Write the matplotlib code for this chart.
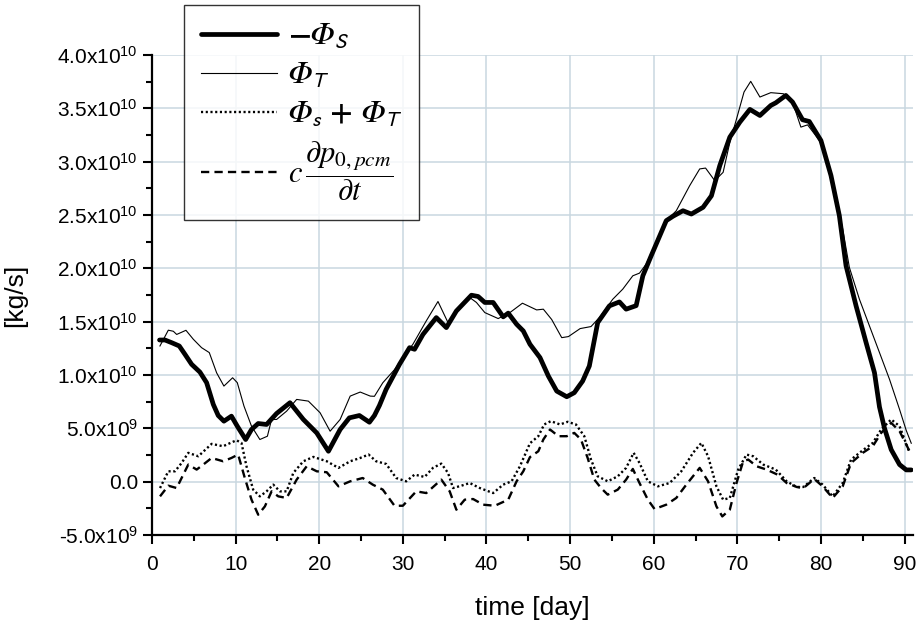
import matplotlib
matplotlib.use("Agg")
from matplotlib import pyplot as plt
from matplotlib.ticker import MultipleLocator, FuncFormatter

plt.rcParams["font.family"] = ["Liberation Sans", "DejaVu Sans"]
plt.rcParams["mathtext.fontset"] = "custom"
plt.rcParams["mathtext.rm"] = "Liberation Sans"
plt.rcParams["mathtext.it"] = "Liberation Sans:italic"
plt.rcParams["mathtext.sf"] = "Liberation Sans"

scale = 1e10  # values below are in units of 1e10 kg/s

# -Phi_S (thick line)
day_s = [0.9, 1.55, 2.35, 3.26, 3.94, 4.74, 5.73, 6.53, 7.33, 7.92, 8.6, 9.5,
         10.2, 11.2, 11.9, 12.7, 13.7, 14.9, 16.5, 18.1, 19.7, 21.1, 22.5, 23.6,
         24.8, 26.0, 26.6, 27.2, 28.0, 29.6, 30.8, 31.4, 32.4, 34.0, 35.2, 36.4,
         38.2, 39.0, 39.8, 40.8, 42.0, 42.6, 43.6, 44.4, 45.2, 46.4, 47.4, 48.4,
         49.6, 50.5, 51.5, 52.3, 53.3, 54.7, 55.9, 56.7, 57.9, 58.7, 59.7, 61.5,
         62.3, 63.5, 64.5, 65.9, 66.9, 67.9, 69.1, 70.3, 71.5, 72.7, 74.0, 74.6,
         75.8, 76.6, 77.8, 78.6, 80.0, 81.2, 82.2, 83.0, 84.2, 85.4, 86.4, 87.0,
         87.6, 88.4, 89.4, 90.2, 90.8]
phi_s = [1.328, 1.328, 1.303, 1.272, 1.194, 1.10, 1.027, 0.928, 0.724, 0.62,
         0.567, 0.614, 0.52, 0.395, 0.489, 0.545, 0.536, 0.639, 0.74, 0.583,
         0.457, 0.285, 0.489, 0.598, 0.62, 0.557, 0.62, 0.714, 0.865, 1.10,
         1.256, 1.241, 1.38, 1.538, 1.444, 1.60, 1.748, 1.736, 1.68, 1.68,
         1.545, 1.58, 1.476, 1.413, 1.288, 1.163, 0.99, 0.849, 0.796, 0.834,
         0.943, 1.084, 1.491, 1.648, 1.685, 1.617, 1.65, 1.93, 2.118, 2.447,
         2.488, 2.54, 2.509, 2.572, 2.68, 2.963, 3.23, 3.371, 3.49, 3.433,
         3.527, 3.552, 3.621, 3.559, 3.393, 3.377, 3.198, 2.87, 2.494, 2.024,
         1.648, 1.303, 1.022, 0.70, 0.50, 0.30, 0.16, 0.11, 0.11]

# Phi_T (thin line)
day_t = [0.95, 1.95, 2.55, 2.95, 4.06, 4.94, 5.93, 6.85, 7.73, 8.6, 9.64, 10.2,
         11.0, 11.9, 12.9, 13.8, 14.3, 14.9, 16.1, 17.3, 18.7, 20.1, 21.3, 22.5,
         23.7, 24.9, 26.1, 26.6, 27.6, 29.0, 30.0, 31.2, 32.8, 34.2, 35.4, 36.6,
         38.0, 38.8, 39.8, 41.4, 42.8, 44.3, 46.0, 46.8, 47.8, 49.0, 49.8, 51.2,
         52.5, 53.5, 55.1, 56.3, 57.5, 58.3, 59.1, 60.3, 61.7, 62.7, 64.3, 65.5,
         66.2, 67.3, 68.3, 69.1, 69.9, 70.8, 71.6, 72.7, 74.0, 75.5, 76.6, 77.6,
         78.4, 80.0, 81.4, 82.6, 83.4, 84.6, 85.8, 87.0, 88.2, 89.4, 90.2, 90.8]
phi_t = [1.272, 1.42, 1.41, 1.38, 1.419, 1.335, 1.256, 1.21, 1.02, 0.896,
         0.974, 0.928, 0.708, 0.52, 0.395, 0.426, 0.583, 0.583, 0.661, 0.771,
         0.755, 0.646, 0.473, 0.583, 0.802, 0.84, 0.802, 0.80, 0.927, 1.05,
         1.163, 1.288, 1.507, 1.689, 1.491, 1.617, 1.726, 1.68, 1.585, 1.529,
         1.585, 1.673, 1.61, 1.617, 1.52, 1.35, 1.36, 1.435, 1.454, 1.538,
         1.71, 1.805, 1.93, 1.955, 2.04, 2.243, 2.462, 2.54, 2.775, 2.932,
         2.94, 2.822, 2.90, 3.18, 3.40, 3.653, 3.753, 3.606, 3.647, 3.637,
         3.559, 3.324, 3.345, 3.18, 2.807, 2.368, 2.008, 1.71, 1.46, 1.21,
         0.959, 0.677, 0.48, 0.36]

# Phi_s + Phi_T (dotted)
day_sum = [0.96, 1.95, 2.75, 3.54, 4.34, 5.54, 7.13, 8.5, 10.1, 10.7, 11.3, 12.1,
           12.9, 13.7, 14.5, 15.3, 16.1, 16.9, 18.1, 19.3, 20.9, 22.3, 23.7, 24.9,
           25.9, 26.8, 28.0, 29.2, 30.4, 31.4, 32.6, 33.6, 34.6, 35.4, 36.0, 37.0,
           38.0, 39.2, 40.8, 42.0, 43.0, 44.0, 45.2, 46.2, 46.9, 47.7, 48.8, 49.7,
           50.7, 51.7, 52.5, 53.3, 54.5, 55.7, 56.7, 57.6, 58.3, 59.3, 60.5, 61.9,
           63.3, 64.7, 65.7, 66.5, 67.5, 68.3, 69.1, 70.1, 71.1, 71.9, 73.1, 74.6,
           75.9, 77.1, 77.9, 79.2, 80.2, 81.4, 82.6, 83.6, 85.0, 86.2, 87.2, 88.4,
           89.4, 90.6]
phi_sum = [-0.06, 0.097, 0.097, 0.175, 0.27, 0.238, 0.354, 0.332, 0.388, 0.363,
           0.144, -0.075, -0.138, -0.091, -0.028, -0.091, -0.091, 0.082, 0.191,
           0.232, 0.191, 0.129, 0.191, 0.222, 0.254, 0.191, 0.166, 0.034, 0.003,
           0.066, 0.044, 0.129, 0.169, 0.082, -0.06, -0.038, -0.013, -0.06,
           -0.107, -0.028, 0.003, 0.144, 0.36, 0.426, 0.536, 0.567, 0.536, 0.561,
           0.536, 0.426, 0.207, 0.05, 0.003, 0.05, 0.129, 0.27, 0.175, 0.003,
           -0.044, -0.013, 0.097, 0.27, 0.363, 0.238, -0.044, -0.169, -0.153,
           0.113, 0.254, 0.238, 0.16, 0.113, 0.003, -0.05, -0.05, 0.034, -0.028,
           -0.138, -0.013, 0.207, 0.294, 0.363, 0.489, 0.583, 0.52, 0.27]

# c dp/dt (dashed)
day_dp = [0.96, 1.95, 2.95, 3.74, 4.34, 5.34, 6.13, 7.13, 8.5, 9.5, 10.3, 11.1,
          11.9, 12.7, 13.5, 14.3, 15.1, 16.1, 17.3, 18.5, 19.7, 20.9, 22.3, 23.7,
          25.2, 26.4, 27.6, 29.0, 30.0, 31.6, 32.8, 34.6, 35.6, 36.4, 37.4, 38.4,
          39.6, 41.0, 42.6, 43.6, 44.4, 45.2, 46.2, 46.8, 47.6, 48.6, 49.6, 50.5,
          51.3, 52.1, 52.9, 53.7, 54.5, 55.7, 56.7, 57.5, 58.3, 59.3, 60.1, 61.5,
          62.7, 63.9, 65.5, 66.5, 67.5, 68.2, 69.1, 69.9, 70.7, 71.3, 72.3, 73.5,
          74.8, 75.9, 77.1, 77.9, 79.2, 80.2, 81.4, 82.6, 83.6, 85.0, 86.2, 87.2,
          88.4, 89.4, 90.6]
dp_dt = [-0.138, -0.038, -0.06, 0.066, 0.16, 0.113, 0.16, 0.222, 0.191, 0.222,
         0.254, 0.034, -0.169, -0.31, -0.232, -0.091, -0.138, -0.153, 0.019,
         0.144, 0.097, 0.088, -0.044, 0.003, 0.034, -0.028, -0.075, -0.226,
         -0.226, -0.091, -0.107, 0.019, -0.091, -0.263, -0.169, -0.163, -0.216,
         -0.226, -0.169, 0.003, 0.097, 0.23, 0.285, 0.395, 0.489, 0.426, 0.426,
         0.457, 0.395, 0.222, 0.019, -0.06, -0.122, -0.075, 0.019, 0.119,
         -0.013, -0.169, -0.257, -0.216, -0.153, -0.028, 0.129, 0.003, -0.232,
         -0.326, -0.263, -0.013, 0.191, 0.207, 0.144, 0.113, 0.066, -0.013,
         -0.05, -0.06, 0.025, -0.044, -0.153, -0.044, 0.175, 0.27, 0.332, 0.457,
         0.551, 0.473, 0.285]

PHI = "\U0001D6F7"  # mathematical italic capital phi
labels = [r"$\mathbf{-}$$%s_{\mathsf{S}}$" % PHI,
          r"$%s_{\mathsf{T}}$" % PHI,
          r"$%s_{\mathsf{s}}$ $\mathbf{+}$ $%s_{\mathsf{T}}$" % (PHI, PHI),
          r"$c\,\dfrac{\partial p_{0,pcm}}{\partial t}$"]

fig = plt.figure(figsize=(9.19, 6.23), dpi=100)
ax = fig.add_axes([0.1654, 0.1413, 0.828, 0.7704])

ax.plot(day_s, [v * scale for v in phi_s], color="black", lw=3.4,
        solid_joinstyle="round", solid_capstyle="round", label=labels[0])
ax.plot(day_t, [v * scale for v in phi_t], color="black", lw=0.8, label=labels[1])
ax.plot(day_sum, [v * scale for v in phi_sum], color="black", lw=1.7,
        linestyle=(0, (0.9, 1.1)), label=labels[2])
ax.plot(day_dp, [v * scale for v in dp_dt], color="black", lw=1.7,
        linestyle=(0, (3.5, 2.2)), label=labels[3])

ax.set_xlim(0, 91)
ax.set_ylim(-5e9, 4e10)
ax.xaxis.set_major_locator(MultipleLocator(10))
ax.xaxis.set_minor_locator(MultipleLocator(5))
ax.yaxis.set_major_locator(MultipleLocator(5e9))
ax.yaxis.set_minor_locator(MultipleLocator(2.5e9))


def ylab(v, pos):
    if abs(v) < 1:
        return "0.0"
    exp = 10 if abs(v) >= 1e10 else 9
    return r"%.1fx10$^{%d}$" % (v / 10 ** exp, exp)


ax.yaxis.set_major_formatter(FuncFormatter(ylab))

ax.grid(True, which="major", color="#c9d7e0", lw=1.1)
ax.set_axisbelow(True)
for side in ("top", "right"):
    ax.spines[side].set_visible(False)
for side in ("left", "bottom"):
    ax.spines[side].set_linewidth(1.6)
ax.tick_params(which="major", direction="out", length=6.5, width=1.5, labelsize=15)
ax.tick_params(axis="x", which="major", pad=8)
ax.tick_params(which="minor", direction="out", length=4, width=1.5)

ax.set_xlabel("time [day]", fontsize=19, labelpad=16)
ax.set_ylabel("[kg/s]", fontsize=19, labelpad=22)

leg = fig.legend(loc="upper left", bbox_to_anchor=(0.2, 0.992), fontsize=22,
                 frameon=True, fancybox=False, edgecolor="black",
                 handlelength=2.5, handletextpad=0.35, labelspacing=0.3,
                 borderpad=0.55, borderaxespad=0)
leg.get_frame().set_linewidth(1.0)
for t in leg.get_texts():
    t.set_math_fontfamily("stix")

fig.savefig("out.png", dpi=100)
